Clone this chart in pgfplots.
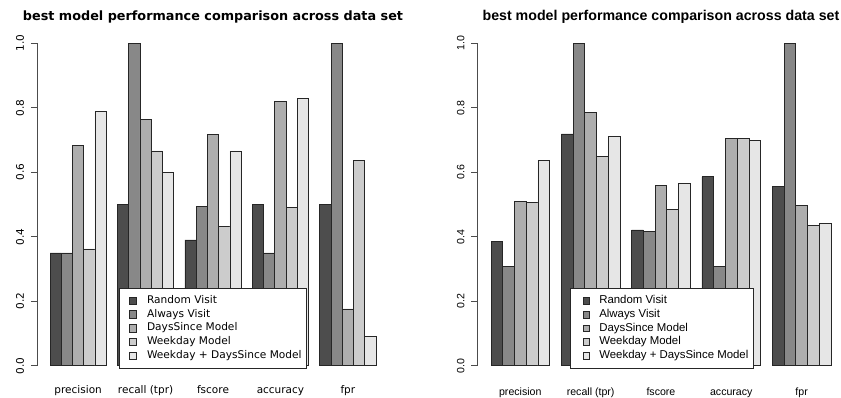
\documentclass[border=0pt]{standalone}
\usepackage{pgfplots}
\pgfplotsset{compat=1.18}
\usepackage{pgfplotstable}
\usepackage{fontspec}
\setmainfont{DejaVu Sans}
\newfontfamily\dejavu{DejaVu Sans}
\newfontfamily\libsans{Liberation Sans}

\definecolor{g1}{HTML}{4D4D4D}
\definecolor{g2}{HTML}{888888}
\definecolor{g3}{HTML}{AEAEAE}
\definecolor{g4}{HTML}{CCCCCC}
\definecolor{g5}{HTML}{E6E6E6}

\pgfplotstableread{
x rv av ds wd wdds
0 0.350 0.350 0.683 0.362 0.789
1 0.501 1.000 0.763 0.666 0.600
2 0.390 0.494 0.717 0.431 0.666
3 0.500 0.350 0.821 0.492 0.830
4 0.500 1.000 0.176 0.636 0.092
}\lefttab

\pgfplotstableread{
x rv av ds wd wdds
0 0.385 0.307 0.509 0.506 0.638
1 0.719 1.000 0.786 0.650 0.711
2 0.421 0.417 0.559 0.485 0.566
3 0.586 0.307 0.705 0.705 0.700
4 0.557 1.000 0.496 0.436 0.442
}\righttab

\pgfplotsset{
  lbar/.style={fill=#1, draw=black!85, line width=0.7bp,
    legend image code/.code={\path (-9.3bp,0bp) (17.7bp,0bp);
      \draw[##1] (0bp,-3.8bp) rectangle (7.6bp,3.8bp);}},
  rbar/.style={fill=#1, draw=black!85, line width=0.7bp,
    legend image code/.code={\path (-12.3bp,0bp) (16bp,0bp);
      \draw[##1] (0bp,-3.4bp) rectangle (6.5bp,3.4bp);}},
  panel/.style={
    scale only axis, height=322.4bp,
    xmin=-0.61, xmax=4.61, ymin=0, ymax=1,
    clip=false,
    ybar=0pt,
    axis x line*=bottom, axis y line*=left,
    x axis line style={draw=none},
    y axis line style={black!70, line width=0.7bp},
    xtick={0,1,2,3,4},
    xticklabels={precision, recall (tpr), fscore, accuracy, fpr},
    x tick style={draw=none},
    ytick={0,0.2,0.4,0.6,0.8,1},
    yticklabels={0.0,0.2,0.4,0.6,0.8,1.0},
    tick align=outside, major tick length=6bp,
    y tick style={black!70, line width=0.7bp},
    yticklabel style={rotate=90, anchor=base, yshift=7.1bp},
    legend cell align=left,
  },
}

\begin{document}
\begin{tikzpicture}
\useasboundingbox (0,0) rectangle (841bp,398bp);

\begin{axis}[panel,
  at={(37bp,32.3bp)}, anchor=south west,
  width=352bp, bar width=11.24bp,
  xticklabel style={anchor=base, yshift=-21.6bp},
  title={best model performance comparison across data set},
  title style={font=\dejavu\bfseries\fontsize{12.8bp}{15bp}\selectfont,
    at={(0.5,1)}, anchor=center, yshift=20bp},
  tick label style={font=\dejavu\fontsize{10.5bp}{12bp}\selectfont},
  legend style={at={(0.233,-0.0102)}, anchor=south west,
    draw=black!85, line width=0.7bp, fill=white,
    inner xsep=0pt, inner ysep=6.1bp, row sep=0pt, column sep=0pt,
    nodes={inner sep=0pt, text height=9.5bp, text depth=4.2bp},
    font=\dejavu\fontsize{10.6bp}{12bp}\selectfont},
]
\addplot[lbar=g1] table[x=x,y=rv]{\lefttab};
\addplot[lbar=g2] table[x=x,y=av]{\lefttab};
\addplot[lbar=g3] table[x=x,y=ds]{\lefttab};
\addplot[lbar=g4] table[x=x,y=wd]{\lefttab};
\addplot[lbar=g5] table[x=x,y=wdds]{\lefttab};
\legend{Random Visit, Always Visit, DaysSince Model, Weekday Model, Weekday + DaysSince Model\hspace*{5bp}}
\end{axis}

\begin{axis}[panel,
  at={(477.4bp,32.3bp)}, anchor=south west,
  width=367.1bp, bar width=11.72bp,
  xticklabel style={anchor=base, yshift=-23.3bp},
  title={best model performance comparison across data set},
  title style={font=\libsans\bfseries\fontsize{14.2bp}{16bp}\selectfont,
    at={(0.5,1)}, anchor=center, yshift=20.8bp},
  tick label style={font=\libsans\fontsize{10.6bp}{12bp}\selectfont},
  legend style={at={(0.2522,-0.0102)}, anchor=south west,
    draw=black!85, line width=0.7bp, fill=white,
    inner xsep=0pt, inner ysep=6.1bp, row sep=0pt, column sep=0pt,
    nodes={inner sep=0pt, text height=9.8bp, text depth=3.9bp},
    font=\libsans\fontsize{11.4bp}{13bp}\selectfont},
]
\addplot[rbar=g1] table[x=x,y=rv]{\righttab};
\addplot[rbar=g2] table[x=x,y=av]{\righttab};
\addplot[rbar=g3] table[x=x,y=ds]{\righttab};
\addplot[rbar=g4] table[x=x,y=wd]{\righttab};
\addplot[rbar=g5] table[x=x,y=wdds]{\righttab};
\legend{Random Visit, Always Visit, DaysSince Model, Weekday Model, Weekday + DaysSince Model\hspace*{5bp}}
\end{axis}
\end{tikzpicture}
\end{document}
